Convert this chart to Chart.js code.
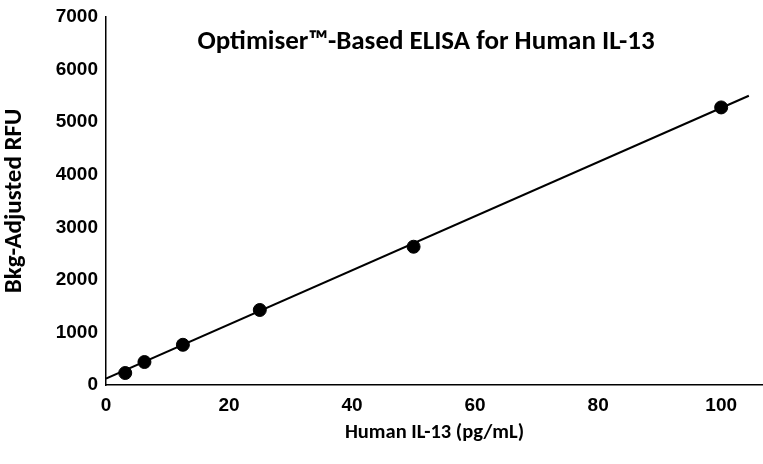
<!DOCTYPE html>
<html>
<head>
<meta charset="utf-8">
<script src="https://cdn.jsdelivr.net/npm/chart.js@4.4.1/dist/chart.umd.min.js"></script>
<style>
  html, body { margin: 0; padding: 0; background: #fff; }
  #wrap { width: 763px; height: 464px; }
</style>
</head>
<body>
<div id="wrap"><canvas id="myChart" width="763" height="464"></canvas></div>
<script>
// standard curve points
const concentrations = [3.125, 6.25, 12.5, 25, 50, 100];
const rfuValues = [228, 437, 765, 1427, 2630, 5280];

// fitted line ends
const fitX = [0, 104.5];
const fitY = [120, 5502];

const yTicks = [0, 1000, 2000, 3000, 4000, 5000, 6000, 7000];
const xTicks = [0, 20, 40, 60, 80, 100];

const chartTitle = "Optimiser™-Based ELISA for Human IL-13";
const xTitle = "Human IL-13 (pg/mL)";
const yTitle = "Bkg-Adjusted RFU";

const tickFont = { family: "'Liberation Sans Narrow', 'Arial Narrow', 'Liberation Sans', Arial, sans-serif", size: 19, weight: "bold" };
const titleFamily = "Carlito, Lato, 'Open Sans', sans-serif";

const innerTitle = {
  id: "innerTitle",
  afterDraw(chart) {
    const { ctx, chartArea } = chart;
    ctx.save();
    ctx.font = "bold 27px " + titleFamily;
    ctx.fillStyle = "#000";
    ctx.textAlign = "center";
    ctx.textBaseline = "middle";
    ctx.fillText(chartTitle, 426, chartArea.top + 25);
    ctx.restore();
  },
};

const ctx = document.getElementById("myChart");
new Chart(ctx, {
  type: "scatter",
  data: {
    datasets: [
      {
        label: "fit",
        data: fitX.map((x, i) => ({ x: x, y: fitY[i] })),
        showLine: true,
        borderColor: "#000",
        borderWidth: 2,
        pointRadius: 0,
        fill: false,
      },
      {
        label: "standards",
        data: concentrations.map((x, i) => ({ x: x, y: rfuValues[i] })),
        backgroundColor: "#000",
        borderColor: "#000",
        pointRadius: 6.5,
        pointHoverRadius: 6.5,
      },
    ],
  },
  options: {
    responsive: false,
    animation: false,
    layout: { autoPadding: false, padding: { top: 17, right: 0, left: 0, bottom: 0 } },
    plugins: {
      legend: { display: false },
      tooltip: { enabled: false },
    },
    scales: {
      x: {
        type: "linear",
        bounds: "data",
        min: 0,
        max: 106.8,
        afterBuildTicks: (scale) => {
          scale.ticks = xTicks.map((v) => ({ value: v }));
        },
        afterFit: (scale) => {
          scale.height = 79;
          scale.paddingLeft = 0;
          scale.paddingRight = 0;
        },
        grid: { display: false, drawOnChartArea: false, drawTicks: true, tickLength: 6, tickColor: "#000" },
        border: { color: "#000", width: 1.5 },
        ticks: { color: "#000", font: tickFont, padding: 3, callback: (v) => String(v) },
        title: {
          display: true,
          text: xTitle,
          color: "#000",
          font: { family: titleFamily, size: 20.5, weight: "bold" },
          padding: { top: 0, bottom: 19 },
        },
      },
      y: {
        min: 0,
        max: 7000,
        afterBuildTicks: (scale) => {
          scale.ticks = yTicks.map((v) => ({ value: v }));
        },
        afterFit: (scale) => { scale.width = 106; },
        grid: { display: false, drawOnChartArea: false, drawTicks: true, tickLength: 6, tickColor: "#000" },
        border: { color: "#000", width: 1.5 },
        ticks: { color: "#000", font: tickFont, padding: 2, callback: (v) => String(v) },
        title: {
          display: true,
          text: yTitle,
          color: "#000",
          font: { family: titleFamily, size: 25, weight: "bold" },
          padding: { top: 0, bottom: 0 },
        },
      },
    },
  },
  plugins: [innerTitle],
});
</script>
</body>
</html>
